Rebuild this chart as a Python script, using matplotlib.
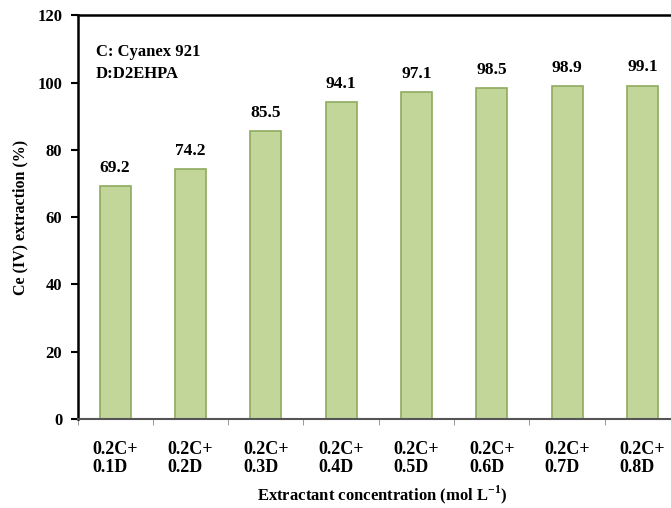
import matplotlib.pyplot as plt
import numpy as np

# data
categories = ['0.2C+\n0.1D', '0.2C+\n0.2D', '0.2C+\n0.3D', '0.2C+\n0.4D',
              '0.2C+\n0.5D', '0.2C+\n0.6D', '0.2C+\n0.7D', '0.2C+\n0.8D']
extraction = [69.2, 74.2, 85.5, 94.1, 97.1, 98.5, 98.9, 99.1]
y_ticks = [0, 20, 40, 60, 80, 100, 120]

plt.rcParams['font.family'] = ['Liberation Serif', 'DejaVu Serif']
plt.rcParams['font.weight'] = 'bold'
plt.rcParams['mathtext.fontset'] = 'custom'
plt.rcParams['mathtext.rm'] = 'Liberation Serif:bold'
plt.rcParams['mathtext.bf'] = 'Liberation Serif:bold'

fig = plt.figure(figsize=(6.71, 5.08), dpi=100)
# the plot area runs past the right edge in the original
ax = fig.add_axes([0.1155, 0.175, 0.898, 0.795])

x = np.arange(len(categories))
bars = ax.bar(x, extraction, width=0.41, color='#c2d69a',
              edgecolor='#8fab5e', linewidth=1.2)

for xi, v in zip(x, extraction):
    ax.text(xi, v + 3, '%.1f' % v, ha='center', va='bottom',
            fontsize=12.5, fontweight='bold')

ax.set_xlim(-0.5, len(categories) - 0.5)
ax.set_ylim(0, 120)
ax.set_yticks(y_ticks)
ax.set_yticklabels([str(t) for t in y_ticks], fontsize=12, fontweight='bold')

ax.set_xticks(x)
ax.set_xticklabels(categories, fontsize=13, fontweight='bold',
                   multialignment='left', linespacing=1.05)
ax.set_xticks(np.arange(len(categories) + 1) - 0.5, minor=True)
ax.tick_params(axis='x', which='major', length=0, pad=16)
ax.tick_params(axis='x', which='minor', length=4, color='#888888')
ax.tick_params(axis='y', length=5, width=1.5, pad=6)

for s in ['left', 'top']:
    ax.spines[s].set_linewidth(1.8)
ax.spines['bottom'].set_linewidth(1.5)
ax.spines['bottom'].set_color('#555555')
ax.spines['right'].set_visible(False)

ax.text(0.03, 0.93, 'C: Cyanex 921\nD:D2EHPA', transform=ax.transAxes,
        ha='left', va='top', fontsize=12, fontweight='bold', linespacing=1.5)

ax.set_ylabel('Ce (IV) extraction (%)', fontsize=11.5, fontweight='bold',
              labelpad=6)
fig.text(0.57, 0.026, 'Extractant concentration (mol L$^{-1}$)',
         ha='center', va='center', fontsize=12, fontweight='bold')

plt.savefig('out.png', dpi=100)
